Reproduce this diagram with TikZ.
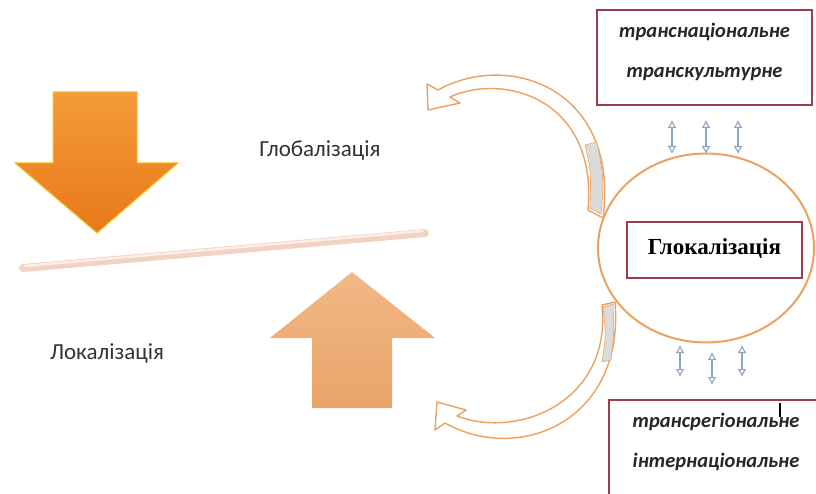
\documentclass[tikz,border=0pt]{standalone}
\usepackage{fontspec}
\setmainfont{Carlito}
\newfontfamily\glokfont{Liberation Serif}
\usetikzlibrary{arrows.meta, positioning, shapes.geometric}
\definecolor{ringorange}{HTML}{EBA261}
\definecolor{boxred}{HTML}{9E3E4C}
\definecolor{arrowblue}{HTML}{8EA4C2}
\definecolor{downtop}{HTML}{F49B3A}
\definecolor{downbot}{HTML}{E8791A}
\definecolor{uptop}{HTML}{F2B886}
\definecolor{upbot}{HTML}{E9A469}
\definecolor{beam}{HTML}{F2D2C2}
\definecolor{beamlight}{HTML}{FBEEE8}

\begin{document}
\begin{tikzpicture}[x=1pt, y=-1pt,
  lbl/.style={font=\fontsize{23}{26}\selectfont, text=black!80},
  redbox/.style={draw=boxred, line width=2.6pt, fill=white, inner sep=0pt},
  boxtxt/.style={font=\fontsize{20.5}{40}\selectfont\bfseries\itshape,
                 align=center, text=black!85},
  ring/.style={ellipse, draw=ringorange, line width=2pt, inner sep=0pt,
               minimum width=216pt, minimum height=189pt},
  updown/.style={draw=arrowblue, line width=1.1pt,
                 {Latex[open,length=8pt,width=9pt]}-{Latex[open,length=8pt,width=9pt]}},
  bendarrow/.style={draw=ringorange, line width=1.4pt, fill=white, line join=round},
  backside/.style={draw=ringorange, line width=0.6pt, fill=gray!28},
]
\useasboundingbox (0,0) rectangle (816,494);

\shade[top color=downtop, bottom color=downbot, draw=downtop!60!yellow, line width=1pt]
  (53,92) -- (137,92) -- (137,163) -- (178,163) -- (97,233) -- (15,163) -- (53,163) -- cycle;
\shade[top color=uptop, bottom color=upbot]
  (352,272) -- (435,338) -- (392,338) -- (392,408) -- (312,408) -- (312,338) -- (270,338) -- cycle;

\draw[beam, line width=8pt, line cap=round] (23,268) -- (425,233);
\draw[beamlight, line width=2.5pt, line cap=round] (25,266) -- (423,231);

\node[lbl] (glob) at (320,150) {Глобалізація};
\node[lbl] (lok)  at (107,353) {Локалізація};

\node[ring] (glok) at (706,248) {};

\path[bendarrow] (438,90) .. controls (510,50) and (620,90) .. (603,218) -- (588,210)
  .. controls (598,100) and (505,72) .. (450,97) -- (460,103) -- (428,110) -- (427,84) -- cycle;
\path[backside] (585,145) .. controls (591,170) .. (590,208) -- (601,214)
  .. controls (604,180) .. (597,142) -- cycle;

\path[bendarrow] (445,423) .. controls (520,465) and (625,420) .. (615,302) -- (602,305)
  .. controls (612,400) and (520,440) .. (457,416) -- (466,410) -- (437,402) -- (435,430) -- cycle;
\path[backside] (603,307) .. controls (606,335) .. (602,362) -- (611,360)
  .. controls (614,335) .. (613,304) -- cycle;

\node[redbox, minimum width=175pt, minimum height=56pt] (core) at (714.5,250) {};
\node[font=\fontsize{23}{26}\selectfont\glokfont\bfseries] (coretxt) at (714.5,249) {Глокалізація};

\node[redbox, minimum width=215pt, minimum height=95pt] (nat) at (704.5,57.5) {};
\node[boxtxt] (nattxt) at (704.5,52) {транснаціональне\\транскультурне};

\node[redbox, minimum width=215pt, minimum height=100pt] (reg) at (716.5,450) {};
\node[boxtxt] (regtxt) at (716,441.5) {трансрегіональне\\інтернаціональне};
\draw[black, line width=1.6pt] (780,403) -- (780,417);

\coordinate (n1a) at (672,120); \coordinate (n1b) at (672,154);
\coordinate (n2a) at (706,120); \coordinate (n2b) at (706,154);
\coordinate (n3a) at (738,120); \coordinate (n3b) at (738,154);
\draw[updown] (n1a) -- (n1b);
\draw[updown] (n2a) -- (n2b);
\draw[updown] (n3a) -- (n3b);

\coordinate (r1a) at (680,345); \coordinate (r1b) at (680,377);
\coordinate (r2a) at (712,352); \coordinate (r2b) at (712,385);
\coordinate (r3a) at (742,345); \coordinate (r3b) at (742,377);
\draw[updown] (r1a) -- (r1b);
\draw[updown] (r2a) -- (r2b);
\draw[updown] (r3a) -- (r3b);
\end{tikzpicture}
\end{document}
